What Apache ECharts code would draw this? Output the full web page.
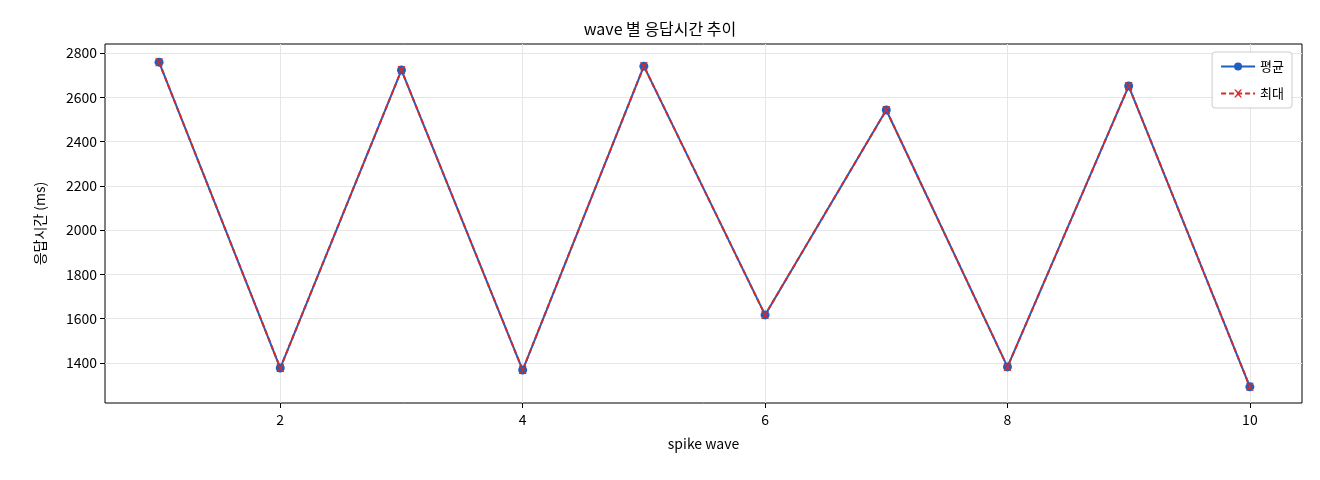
<!DOCTYPE html><html><head><meta charset="utf-8">
<script src="https://cdn.jsdelivr.net/npm/echarts@6/dist/echarts.min.js"></script>
<style>html,body{margin:0;padding:0;background:#fff}#c{width:1320px;height:480px}</style></head><body><div id="c"></div>
<script>
const waves=[1,2,3,4,5,6,7,8,9,10];
const avgVals=[2759,1377,2723,1368,2741,1617,2543,1382,2651,1292];
const maxVals=[2759,1377,2723,1368,2741,1617,2543,1382,2651,1292];
const xTicks=[2,4,6,8,10];
const yTicks=[1400,1600,1800,2000,2200,2400,2600,2800];
const F='"Noto Sans CJK KR", "DejaVu Sans", sans-serif';
const c=echarts.init(document.getElementById('c'));
c.setOption({
 animation:false,
 textStyle:{fontFamily:F},
 title:{text:'wave 별 응답시간 추이',left:'center',top:16,textStyle:{fontFamily:F,fontSize:16,fontWeight:'normal',color:'#000'}},
 grid:{left:105,right:18,top:44,bottom:77,show:true,borderColor:'#000',borderWidth:1},
 legend:{right:28,top:52,orient:'vertical',itemWidth:34,itemHeight:10,itemGap:14,
   backgroundColor:'#fff',borderColor:'#ccc',borderWidth:1,borderRadius:3,padding:[8,8],
   textStyle:{fontFamily:F,fontSize:13,color:'#000'},
   data:['평균','최대']},
 xAxis:{type:'value',min:0.554,max:10.43,name:'spike wave',nameLocation:'middle',nameGap:34,
   nameTextStyle:{fontSize:14,color:'#000'},
   axisLine:{show:false},
   axisTick:{show:true,customValues:xTicks,lineStyle:{color:'#000'}},
   axisLabel:{customValues:xTicks,color:'#000',fontSize:14,margin:10,formatter:v=>String(v)},
   splitLine:{show:true,lineStyle:{color:'#e6e6e6'}}},
 yAxis:{type:'value',min:1219,max:2841,name:'응답시간 (ms)',nameLocation:'middle',nameGap:58,
   nameTextStyle:{fontSize:14,color:'#000'},
   axisLine:{show:false},
   axisTick:{show:true,customValues:yTicks,lineStyle:{color:'#000'}},
   axisLabel:{customValues:yTicks,color:'#000',fontSize:14,formatter:v=>String(v)},
   splitLine:{show:true,lineStyle:{color:'#e6e6e6'}}},
 series:[
  {name:'평균',type:'line',data:waves.map((w,i)=>[w,avgVals[i]]),symbol:'circle',symbolSize:9,
   lineStyle:{color:'#1f5fbf',width:2},itemStyle:{color:'#1f5fbf'}},
  {name:'최대',type:'line',data:waves.map((w,i)=>[w,maxVals[i]]),
   symbol:'path://M0,0 L2,0 L5,3 L8,0 L10,0 L6,5 L10,10 L8,10 L5,7 L2,10 L0,10 L4,5 Z',symbolSize:8,
   lineStyle:{color:'#d62a2a',width:2,type:[5,3]},itemStyle:{color:'#d62a2a'}}
 ]});
</script></body></html>
